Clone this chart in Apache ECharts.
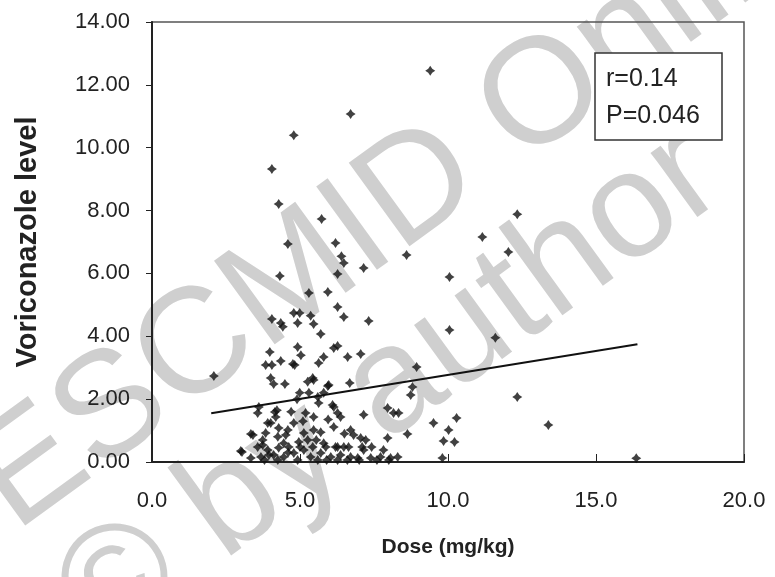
<!DOCTYPE html>
<html>
<head>
<meta charset="utf-8">
<script src="https://cdn.jsdelivr.net/npm/echarts@6/dist/echarts.min.js"></script>
<style>
    html, body { margin: 0; padding: 0; background: #fff; }
    #chart { width: 775px; height: 577px; }
</style>
</head>
<body>
<div id="chart"></div>
<script>
// dose (mg/kg) of each patient
const dose = [
    9.4, 6.71, 4.79, 4.05, 4.28, 5.73, 12.34, 11.16, 12.04, 4.59, 6.2, 6.4, 6.48, 8.6, 4.32, 6.27, 7.15, 10.05,
    5.3, 5.94, 6.27, 6.48, 7.32, 10.05, 11.6, 4.05, 4.35, 4.42, 4.79, 4.99, 4.92, 5.36, 5.46, 5.7, 4.92, 5.03,
    3.98, 3.84, 4.05, 4.35, 4.76, 4.82, 5.63, 5.8, 6.14, 6.27, 6.61, 7.05, 8.94, 2.09, 4.01, 4.11, 4.49, 5.46,
    5.94, 6.68, 8.8, 8.74, 12.34, 13.39, 16.36,
    4.99, 5.3, 5.6, 5.8, 5.63, 6.1, 3.61, 3.57, 4.22, 4.01, 4.18, 5.19, 5.46, 6.14, 6.27, 6.37, 7.15, 7.96,
    8.16, 8.33, 9.51, 10.29, 10.02, 9.85, 10.22, 8.63, 7.96, 7.82, 3.34, 3.0, 6.71, 6.81, 6.14, 4.79, 4.59, 3.84,
    3.74, 4.25, 4.45, 5.13, 5.46, 5.7, 5.26, 5.8, 6.27, 6.48, 7.05, 7.15, 3.57, 3.91, 3.34, 3.68, 4.11, 4.45,
    4.79, 5.13, 5.36, 5.7, 6.04, 6.37, 6.71, 6.95, 7.39, 7.72, 8.06, 8.3, 9.81, 4.92, 4.25, 6.27, 5.26, 3.91,
    3.41, 4.28, 4.52, 4.15, 3.04, 3.74, 3.95, 4.96, 4.28, 5.43, 5.97, 7.22, 4.62, 5.0, 5.43, 5.87, 6.2, 6.64,
    7.1, 7.42, 5.6, 5.9, 6.6, 7.0, 7.6, 8.0, 3.8, 4.6, 5.55, 5.1, 4.7, 6.5, 4.9, 5.95
]
// voriconazole level for the same patients
const level = [
    12.45, 11.07, 10.4, 9.32, 8.21, 7.73, 7.88, 7.16, 6.68, 6.94, 6.97, 6.55, 6.33, 6.59, 5.92, 5.98, 6.17, 5.89,
    5.38, 5.41, 4.93, 4.61, 4.49, 4.2, 3.95, 4.55, 4.42, 4.3, 4.74, 4.74, 4.42, 4.65, 4.39, 4.07, 3.66, 3.4,
    3.5, 3.09, 3.09, 3.21, 3.12, 3.09, 3.15, 3.34, 3.63, 3.69, 3.34, 3.44, 3.02, 2.74, 2.67, 2.48, 2.48, 2.61,
    2.42, 2.51, 2.39, 2.13, 2.07, 1.18, 0.12,
    2.2, 2.2, 2.07, 2.2, 1.88, 1.81, 1.75, 1.56, 1.65, 1.24, 1.43, 1.56, 1.43, 1.75, 1.56, 1.43, 1.5, 1.72,
    1.56, 1.56, 1.24, 1.4, 1.02, 0.67, 0.64, 0.89, 0.76, 0.38, 0.89, 0.35, 1.02, 0.86, 1.11, 1.24, 1.02, 0.92,
    0.7, 0.8, 0.6, 0.92, 1.02, 0.95, 0.7, 0.6, 0.48, 0.48, 0.76, 0.38, 0.48, 0.38, 0.13, 0.16, 0.22, 0.16,
    0.29, 0.38, 0.16, 0.29, 0.16, 0.22, 0.16, 0.13, 0.13, 0.16, 0.13, 0.16, 0.13, 0.06, 0.06, 0.06, 2.55, 1.24,
    0.86, 1.08, 0.86, 1.59, 0.32, 0.54, 0.22, 0.64, 0.45, 2.67, 2.45, 0.7, 0.48, 0.48, 0.48, 0.48, 0.48, 0.48,
    0.48, 0.48, 0.06, 0.06, 0.06, 0.06, 0.06, 0.06, 0.06, 0.3, 0.7, 1.3, 1.6, 0.9, 2.0, 1.35
]
// regression line end points
const fitX = [2.0, 16.4]
const fitY = [1.55, 3.75]
// statistics box
const statLines = ['r=0.14', 'P=0.046']

const myChart = echarts.init(document.getElementById('chart'))

const points = dose.map((v, i) => [v, level[i]])
const fitLine = fitX.map((v, i) => [v, fitY[i]])

// watermark lines, rotated round their own start point
const markAngle = 36 * Math.PI / 180
const markFont = 'normal 150px "Liberation Sans", Arial, sans-serif'
const labelFont = 'Liberation Sans'

const option = {
    backgroundColor: '#fff',
    animation: false,
    grid: {
        left: 152,
        right: 31,
        top: 22,
        bottom: 115,
        show: true,
        borderColor: '#555',
        borderWidth: 1.5
    },
    xAxis: {
        type: 'value',
        min: 0,
        max: 20,
        interval: 5,
        name: 'Dose (mg/kg)',
        nameLocation: 'middle',
        nameGap: 75,
        nameTextStyle: {
            color: '#222',
            fontSize: 21,
            fontWeight: 'bold',
            fontFamily: labelFont
        },
        axisLine: { lineStyle: { color: '#222', width: 2 } },
        axisTick: { show: true, inside: true, length: 8, lineStyle: { color: '#222', width: 1 } },
        splitLine: { show: false },
        axisLabel: {
            margin: 28,
            color: '#222',
            fontSize: 22,
            fontFamily: labelFont,
            formatter: v => v.toFixed(1)
        }
    },
    yAxis: {
        type: 'value',
        min: 0,
        max: 14,
        interval: 2,
        name: 'Voriconazole level',
        nameLocation: 'middle',
        nameGap: 110,
        nameTextStyle: {
            color: '#222',
            fontSize: 29,
            fontWeight: 'bold',
            fontFamily: labelFont
        },
        axisLine: { show: true, lineStyle: { color: '#222', width: 2 } },
        axisTick: { show: true, length: 6, lineStyle: { color: '#222', width: 1 } },
        splitLine: { show: false },
        axisLabel: {
            margin: 22,
            color: '#222',
            fontSize: 22,
            fontFamily: labelFont,
            formatter: v => v.toFixed(2)
        }
    },
    graphic: [
        {
            type: 'text',
            x: 35, y: 560,
            rotation: markAngle,
            z: -1,
            style: { text: 'ESCMID Online', font: markFont, fill: '#cfcfcf', textVerticalAlign: 'bottom' }
        },
        {
            type: 'text',
            x: 120, y: 678,
            rotation: markAngle,
            z: -1,
            style: { text: '\u00a9 by author', font: markFont, fill: '#cfcfcf', textVerticalAlign: 'bottom' }
        },
        {
            type: 'rect',
            z: 10,
            shape: { x: 595, y: 53, width: 127, height: 87 },
            style: { fill: '#fff', stroke: '#333', lineWidth: 1.5 }
        },
        {
            type: 'text',
            x: 606, y: 61,
            z: 11,
            style: {
                text: statLines.join('\n'),
                font: '25px "Liberation Sans", Arial, sans-serif',
                lineHeight: 37,
                fill: '#222'
            }
        }
    ],
    series: [
        {
            type: 'scatter',
            data: points,
            symbol: 'path://M0,-5 L2,-2 L5,0 L2,2 L0,5 L-2,2 L-5,0 L-2,-2 Z',
            symbolSize: 10,
            itemStyle: { color: '#111' },
            z: 3
        },
        {
            type: 'line',
            data: fitLine,
            symbol: 'none',
            lineStyle: { color: '#111', width: 2 },
            z: 4
        }
    ]
}
myChart.setOption(option)
</script>
</body>
</html>
